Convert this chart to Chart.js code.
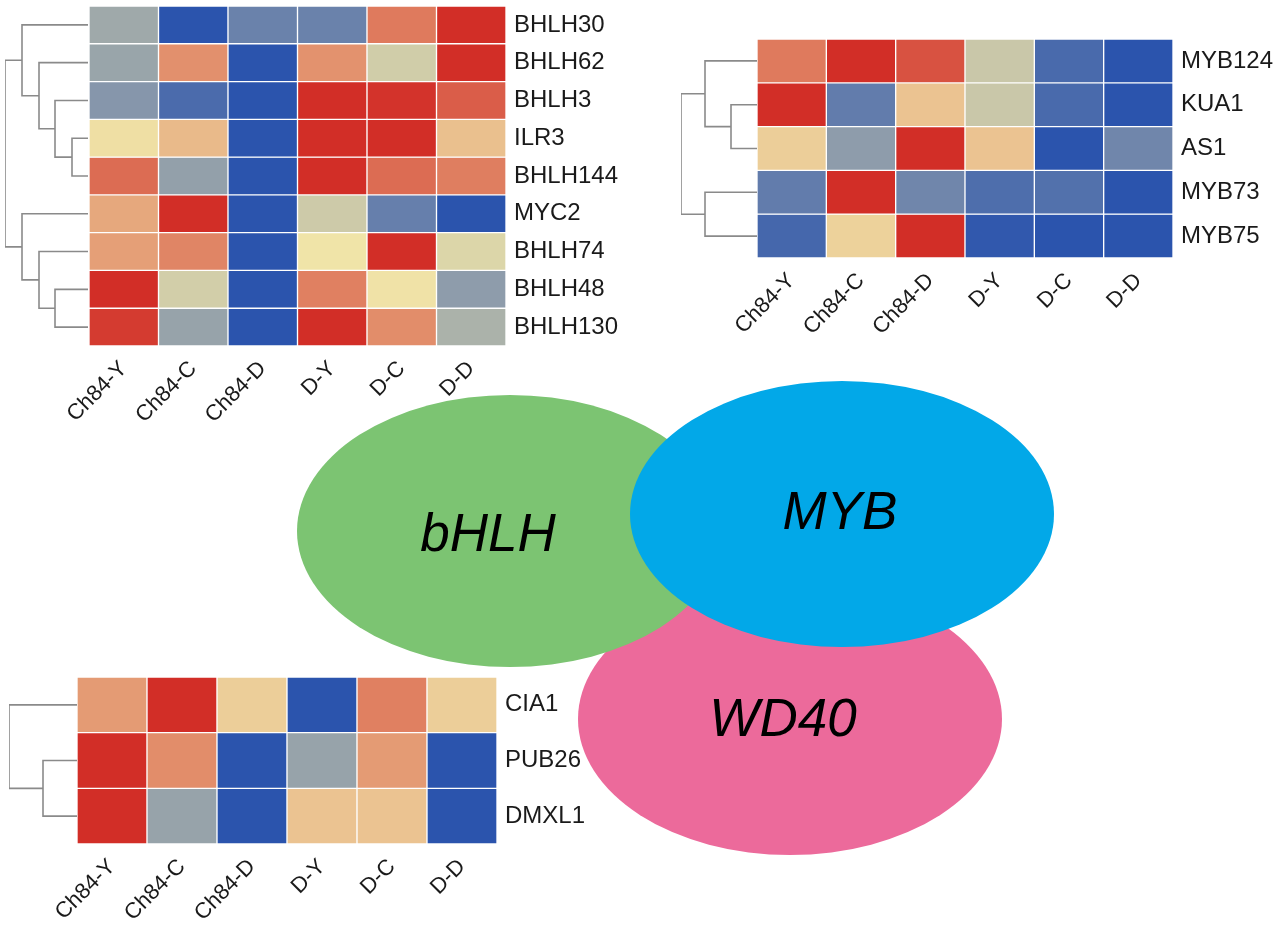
<!DOCTYPE html>
<html>
<head>
<meta charset="utf-8">
<script src="https://cdn.jsdelivr.net/npm/chart.js@4.4.1/dist/chart.umd.min.js"></script>
<style>
  html, body { margin: 0; padding: 0; background: #fff; }
  #page { position: relative; width: 1280px; height: 925px; overflow: hidden; }
  #page canvas { position: absolute; }
</style>
</head>
<body>
<div id="page">
  <canvas id="venn" width="1280" height="925" style="left:0;top:0"></canvas>
  <canvas id="dendroBhlh" width="89" height="346" style="left:2px;top:3px"></canvas>
  <canvas id="heatBhlh" width="597" height="432" style="left:29px;top:4px"></canvas>
  <canvas id="dendroMyb" width="82" height="225" style="left:678px;top:36px"></canvas>
  <canvas id="heatMyb" width="583" height="311" style="left:697px;top:37px"></canvas>
  <canvas id="dendroWd40" width="74" height="173" style="left:6px;top:674px"></canvas>
  <canvas id="heatWd40" width="600" height="249" style="left:17px;top:675px"></canvas>
</div>
<script>
// sample columns (same for all three heatmaps)
const samples = ["Ch84-Y", "Ch84-C", "Ch84-D", "D-Y", "D-C", "D-D"];

// bHLH genes, scaled expression (-1 blue ... 0 yellow ... 1 red)
const bhlhGenes = ["BHLH30", "BHLH62", "BHLH3", "ILR3", "BHLH144", "MYC2", "BHLH74", "BHLH48", "BHLH130"];
const bhlhValues = [
  [-0.41, -1.00, -0.68, -0.68,  0.58,  1.00],
  [-0.44,  0.46, -1.00,  0.45, -0.16,  1.00],
  [-0.54, -0.84, -1.00,  1.00,  0.97,  0.74],
  [ 0.03,  0.23, -1.00,  1.00,  1.00,  0.20],
  [ 0.66, -0.47, -1.00,  1.00,  0.66,  0.56],
  [ 0.33,  1.00, -1.00, -0.18, -0.70, -1.00],
  [ 0.38,  0.52, -1.00,  0.00,  1.00, -0.10],
  [ 1.00, -0.15, -1.00,  0.55,  0.01, -0.50],
  [ 0.93, -0.45, -1.00,  1.00,  0.48, -0.35]
];
// hclust style merges: negative = leaf (1-based row), positive = earlier merge; last = height
const bhlhMerge = [[-4, -5, 16], [-3, 1, 33], [-2, 2, 49], [-1, 3, 66], [-8, -9, 33], [-7, 5, 49], [-6, 6, 66], [4, 7, 83]];

const mybGenes = ["MYB124", "KUA1", "AS1", "MYB73", "MYB75"];
const mybValues = [
  [ 0.58,  1.00,  0.80, -0.20, -0.85, -1.00],
  [ 1.00, -0.72,  0.18, -0.20, -0.85, -1.00],
  [ 0.12, -0.50,  1.00,  0.18, -1.00, -0.65],
  [-0.72,  1.00, -0.65, -0.82, -0.80, -1.00],
  [-0.87,  0.10,  1.00, -0.97, -1.00, -1.00]
];
const mybMerge = [[-2, -3, 26], [-1, 1, 52], [-4, -5, 52], [2, 3, 76]];

const wd40Genes = ["CIA1", "PUB26", "DMXL1"];
const wd40Values = [
  [ 0.40,  1.00,  0.12, -1.00,  0.55,  0.12],
  [ 1.00,  0.48, -1.00, -0.45,  0.40, -1.00],
  [ 1.00, -0.45, -1.00,  0.18,  0.18, -1.00]
];
const wd40Merge = [[-2, -3, 34], [-1, 1, 68]];

const setNames = ["WD40", "bHLH", "MYB"];

// ---- styles / layout ----
const FONT = "'Liberation Sans', Arial, sans-serif";
const TEXT = '#1a1a1a';
const lowCol = [43, 84, 173], midCol = [240, 228, 168], highCol = [210, 46, 39];

function heatColor(v) {
  const a = v < 0 ? lowCol : midCol;
  const b = v < 0 ? midCol : highCol;
  const t = v < 0 ? v + 1 : v;
  const c = a.map((x, i) => Math.round(x + (b[i] - x) * t));
  return 'rgb(' + c.join(',') + ')';
}

function makeHeatmap(id, genes, values, right, bottom) {
  new Chart(document.getElementById(id), {
    type: 'bar',
    data: {
      labels: samples,
      datasets: genes.map((g, r) => ({
        label: g,
        data: samples.map(() => [r, r + 1]),
        backgroundColor: values[r].map(heatColor),
        borderColor: '#ffffff',
        borderWidth: 1,
        borderSkipped: false,
        barPercentage: 1,
        categoryPercentage: 1,
        grouped: false
      }))
    },
    options: {
      responsive: false,
      animation: false,
      layout: { padding: { left: 60, top: 2, right: 0, bottom: 0 } },
      plugins: { legend: { display: false }, tooltip: { enabled: false } },
      scales: {
        x: {
          grid: { display: false, drawTicks: false },
          border: { display: false },
          ticks: { color: TEXT, font: { family: FONT, size: 22 }, minRotation: 45, maxRotation: 45, padding: 10 },
          afterFit: (s) => { s.height = bottom; s.paddingLeft = 0; s.paddingRight = 0; }
        },
        y: { display: false, min: 0, max: genes.length, reverse: true },
        y2: {
          type: 'category',
          labels: genes,
          position: 'right',
          offset: true,
          grid: { display: false, drawTicks: false },
          border: { display: false },
          ticks: { color: TEXT, font: { family: FONT, size: 24 }, padding: 8 },
          afterFit: (s) => { s.width = right; s.paddingTop = 0; s.paddingBottom = 0; }
        }
      }
    }
  });
}

function makeDendro(id, merge, nLeaves) {
  const pos = [], hgt = [];
  const where = (k) => k < 0 ? { y: -k - 0.5, h: 0 } : { y: pos[k - 1], h: hgt[k - 1] };
  const datasets = merge.map(([a, b, h]) => {
    const A = where(a), B = where(b);
    pos.push((A.y + B.y) / 2);
    hgt.push(h);
    return {
      data: [{ x: A.h, y: A.y }, { x: h, y: A.y }, { x: h, y: B.y }, { x: B.h, y: B.y }],
      showLine: true,
      borderColor: '#8a8a8a',
      borderWidth: 1.6,
      pointRadius: 0,
      fill: false
    };
  });
  new Chart(document.getElementById(id), {
    type: 'scatter',
    data: { datasets },
    options: {
      responsive: false,
      animation: false,
      layout: { padding: 3 },
      plugins: { legend: { display: false }, tooltip: { enabled: false } },
      scales: {
        x: { display: false, min: 0, max: merge[merge.length - 1][2], reverse: true },
        y: { display: false, min: 0, max: nLeaves, reverse: true }
      }
    }
  });
}

// venn ellipses in page units (draw order: WD40, bHLH, MYB)
const vennLayout = [
  { cx: 790, cy: 719, rx: 212, ry: 136, color: '#EC6A9B', tx: 783, ty: 736 },
  { cx: 510, cy: 531, rx: 213, ry: 136, color: '#7CC472', tx: 488, ty: 551 },
  { cx: 842, cy: 514, rx: 212, ry: 133, color: '#02A8E8', tx: 840, ty: 529 }
];

const vennPlugin = {
  id: 'vennPlugin',
  afterDatasetsDraw(chart) {
    const { ctx, scales: { x, y } } = chart;
    ctx.save();
    vennLayout.forEach((e) => {
      const px = x.getPixelForValue(e.cx), py = y.getPixelForValue(e.cy);
      const rx = Math.abs(x.getPixelForValue(e.cx + e.rx) - px);
      const ry = Math.abs(y.getPixelForValue(e.cy + e.ry) - py);
      ctx.beginPath();
      ctx.ellipse(px, py, rx, ry, 0, 0, Math.PI * 2);
      ctx.fillStyle = e.color;
      ctx.fill();
    });
    ctx.fillStyle = '#000';
    ctx.font = 'italic 53px ' + FONT;
    ctx.textAlign = 'center';
    ctx.textBaseline = 'alphabetic';
    vennLayout.forEach((e, i) => {
      ctx.fillText(setNames[i], x.getPixelForValue(e.tx), y.getPixelForValue(e.ty));
    });
    ctx.restore();
  }
};

new Chart(document.getElementById('venn'), {
  type: 'scatter',
  data: { datasets: [{ data: [] }] },
  options: {
    responsive: false,
    animation: false,
    layout: { padding: 0 },
    plugins: { legend: { display: false }, tooltip: { enabled: false } },
    scales: {
      x: { display: false, min: 0, max: 1280 },
      y: { display: false, min: 0, max: 925, reverse: true }
    }
  },
  plugins: [vennPlugin]
});

makeHeatmap('heatBhlh', bhlhGenes, bhlhValues, 120, 90);
makeHeatmap('heatMyb', mybGenes, mybValues, 107, 90);
makeHeatmap('heatWd40', wd40Genes, wd40Values, 120, 80);
makeDendro('dendroBhlh', bhlhMerge, bhlhGenes.length);
makeDendro('dendroMyb', mybMerge, mybGenes.length);
makeDendro('dendroWd40', wd40Merge, wd40Genes.length);
</script>
</body>
</html>
